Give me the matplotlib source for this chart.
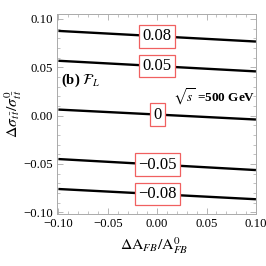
import matplotlib
matplotlib.use("Agg")
import matplotlib.pyplot as plt
import numpy as np

plt.rcParams["font.family"] = ["Liberation Serif", "DejaVu Serif"]
plt.rcParams["mathtext.fontset"] = "stix"

# Datos
x_ends = [-0.10, 0.10]
levels = [0.08, 0.05, 0.0, -0.05, -0.08]
level_labels = ["0.08", "0.05", "0", "\u22120.05", "\u22120.08"]
y_left = [0.0876, 0.0567, 0.0062, -0.0450, -0.0760]
y_right = [0.0766, 0.0457, -0.0041, -0.0564, -0.0866]
ticks = [-0.10, -0.05, 0.00, 0.05, 0.10]
tick_labels = ["\u22120.10", "\u22120.05", "0.00", "0.05", "0.10"]

fig = plt.figure(figsize=(2.66, 2.66), dpi=100)
ax = fig.add_axes([0.214, 0.195, 0.750, 0.752])

for yl, yr, lab in zip(y_left, y_right, level_labels):
    ax.plot(x_ends, [yl, yr], color="black", lw=1.7, solid_capstyle="butt")
    ax.text(0.0, (yl + yr) / 2, lab, ha="center", va="center", fontsize=12,
            bbox=dict(boxstyle="square,pad=0.2", fc="white", ec="#f06060", lw=0.9))

ax.set_xlim(-0.1015, 0.1005)
ax.set_ylim(-0.102, 0.105)
ax.set_xticks(ticks)
ax.set_xticklabels(tick_labels)
ax.set_yticks(ticks)
ax.set_yticklabels(tick_labels)
ax.set_xticks(np.arange(-0.10, 0.1001, 0.01), minor=True)
ax.set_yticks(np.arange(-0.10, 0.1001, 0.01), minor=True)
ax.tick_params(which="both", direction="in", top=True, right=True,
               color="#aaaaaa", labelsize=9.2)
ax.tick_params(which="major", length=4, width=0.6, pad=3)
ax.tick_params(which="minor", length=2, width=0.5)
for s in ax.spines.values():
    s.set_color("#aaaaaa")
    s.set_linewidth(0.7)

ax.text(-0.097, 0.0368, r"(b) $\mathcal{F}_L$", fontsize=10.5, fontweight="bold",
        ha="left", va="center")
ax.text(0.016, 0.019, r"$\sqrt{s}$ =500 GeV", fontsize=9.5, fontweight="bold",
        ha="left", va="center")

# Etiquetas de ejes colocadas a mano en coordenadas de figura
fig.text(154 / 266, 1 - 246 / 266, r"$\Delta\mathrm{A}_{FB}/\mathrm{A}^{0}_{FB}$",
         fontsize=11.3, ha="center", va="center")
fig.text(13 / 266, 1 - 113 / 266, r"$\Delta\sigma_{t\,\bar{t}}/\sigma^{0}_{t\,\bar{t}}$",
         fontsize=11.3, ha="center", va="center", rotation=90)

fig.savefig("out.png", dpi=100)
